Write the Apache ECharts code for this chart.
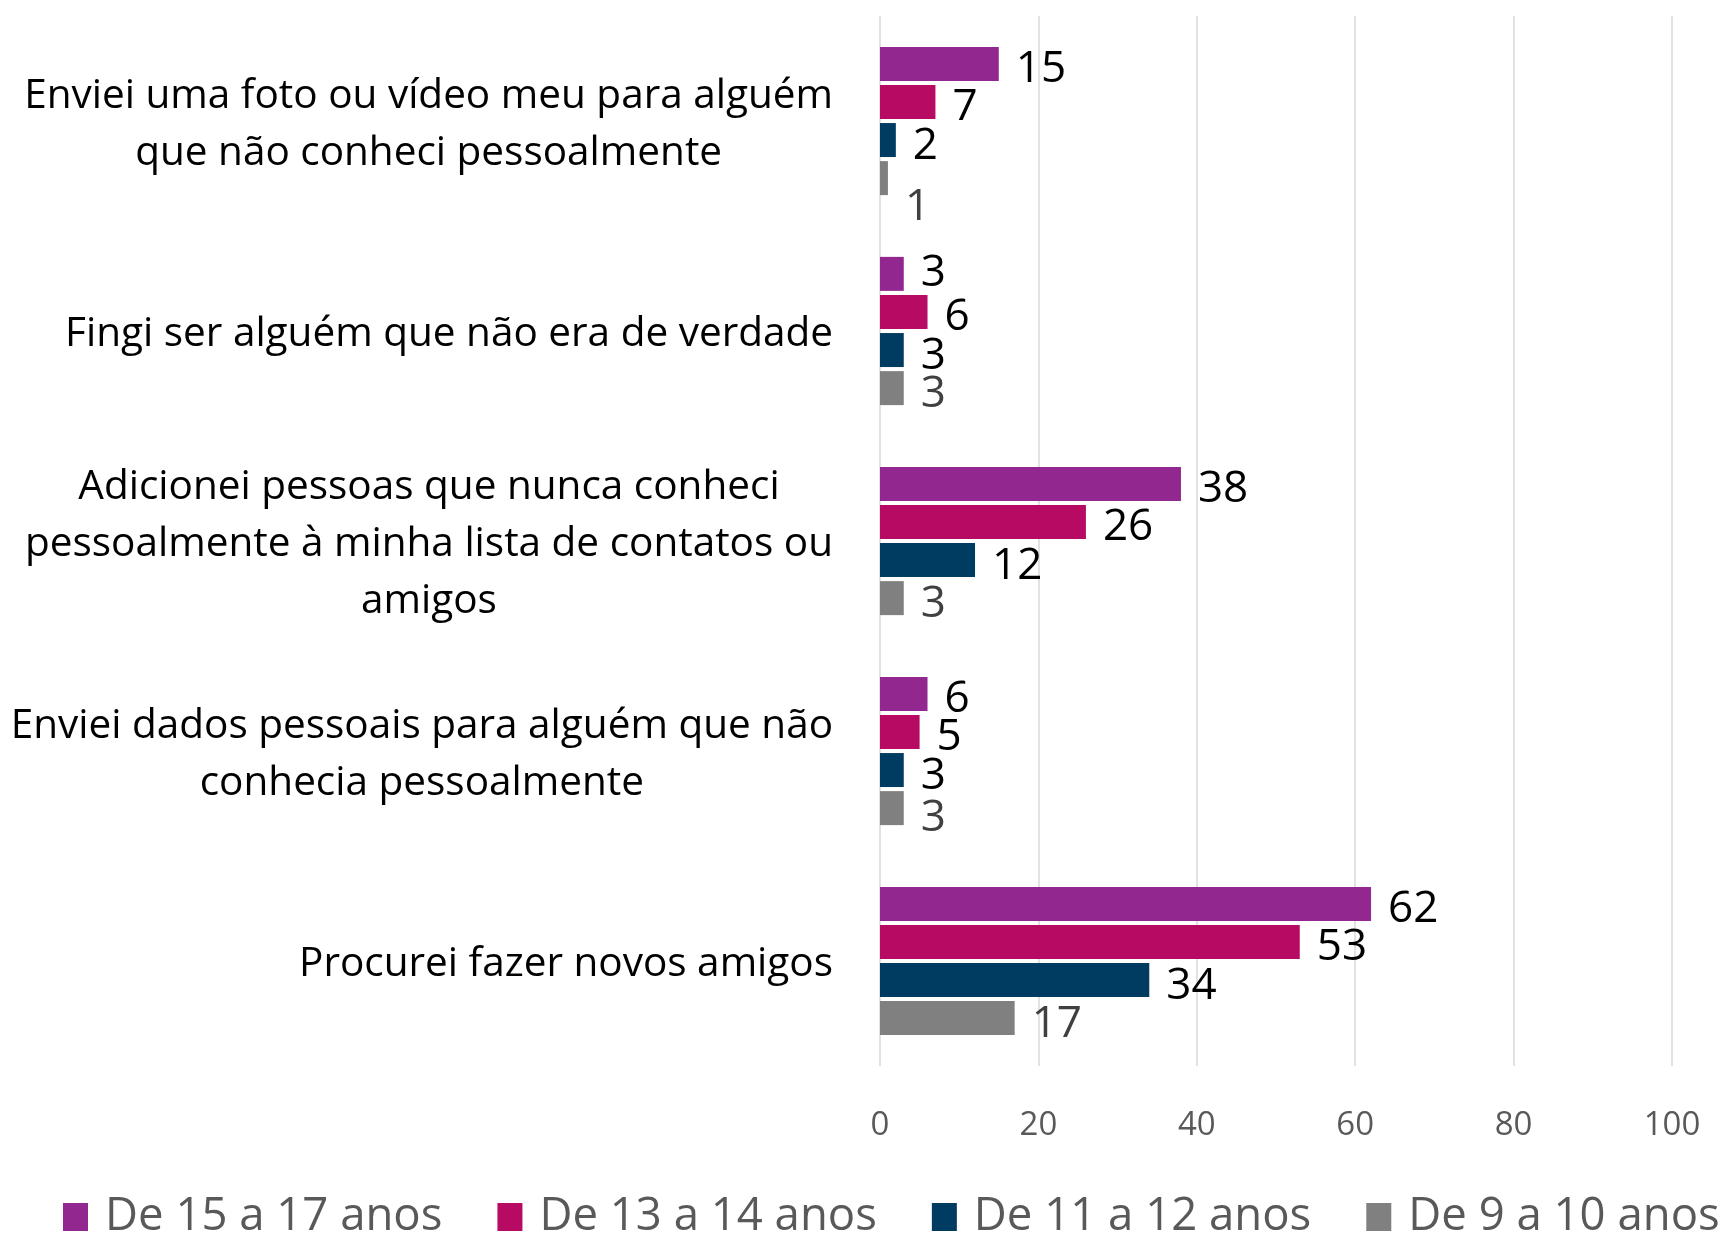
<!DOCTYPE html>
<html>
<head>
<meta charset="utf-8">
<script src="https://cdn.jsdelivr.net/npm/echarts@6/dist/echarts.min.js"></script>
<style>
  html, body { margin: 0; padding: 0; background: #fff; }
  #chart { width: 1723px; height: 1237px; }
</style>
</head>
<body>
<div id="chart"></div>
<script>
// categories, top to bottom
const categories = [
  'Enviei uma foto ou vídeo meu para alguém\nque não conheci pessoalmente',
  'Fingi ser alguém que não era de verdade',
  'Adicionei pessoas que nunca conheci\npessoalmente à minha lista de contatos ou\namigos',
  'Enviei dados pessoais para alguém que não\nconhecia pessoalmente',
  'Procurei fazer novos amigos'
]
const seriesNames = ['De 15 a 17 anos', 'De 13 a 14 anos', 'De 11 a 12 anos', 'De 9 a 10 anos']
const age15to17 = [15, 3, 38, 6, 62]
const age13to14 = [7, 6, 26, 5, 53]
const age11to12 = [2, 3, 12, 3, 34]
const age9to10 = [1, 3, 3, 3, 17]
const xTicks = [0, 20, 40, 60, 80, 100]

const colors = ['#92278f', '#b70b63', '#003b61', '#808080']
const labelColors = ['#000', '#000', '#000', '#404040']
const font = '"Open Sans", "Noto Sans", sans-serif'

const allValues = [age15to17, age13to14, age11to12, age9to10]

// a few labels sit shifted in the original (series index, category index) -> y offset
const labelNudge = { '3-0': 29, '0-1': 0, '3-3': 10 }

const chart = echarts.init(document.getElementById('chart'))

const option = {
  animation: false,
  textStyle: { fontFamily: font },
  color: colors,
  grid: { left: 880, right: 51, top: 16, bottom: 171 },
  legend: {
    top: 1194,
    left: 63,
    width: 1720,
    padding: 0,
    itemWidth: 25,
    itemHeight: 28,
    itemGap: 55,
    icon: 'rect',
    textStyle: { fontSize: 45.5, color: '#595959', fontFamily: font, padding: [0, 0, 0, 12] },
    data: seriesNames
  },
  xAxis: {
    type: 'value',
    min: xTicks[0],
    max: xTicks[xTicks.length - 1],
    interval: 20,
    axisLine: { show: false },
    axisTick: { show: false },
    axisLabel: { fontSize: 33, color: '#595959', margin: 43 },
    splitLine: { lineStyle: { color: '#d9d9d9', width: 1.5 } }
  },
  yAxis: {
    type: 'category',
    inverse: true,
    data: categories,
    axisLine: { show: false },
    axisTick: { show: false },
    axisLabel: {
      margin: 47,
      fontSize: 40.5,
      color: '#000',
      lineHeight: 57,
      padding: [7, 0, 0, 0],
      formatter: (val) => val.split('\n').map(s => '{c|' + s + '}').join('\n'),
      rich: { c: { fontSize: 40.5, lineHeight: 57, align: 'center', color: '#000' } }
    }
  },
  series: seriesNames.map((name, i) => ({
    name: name,
    type: 'bar',
    barWidth: 34,
    barGap: '12%',
    data: allValues[i].map((v, j) => {
      const nudge = labelNudge[i + '-' + j]
      if (nudge === undefined) return v
      return { value: v, label: { offset: [0, nudge] } }
    }),
    label: {
      show: true,
      position: 'right',
      distance: 17,
      fontSize: 44,
      color: labelColors[i],
      offset: [0, 6]
    }
  }))
}

chart.setOption(option)
</script>
</body>
</html>
